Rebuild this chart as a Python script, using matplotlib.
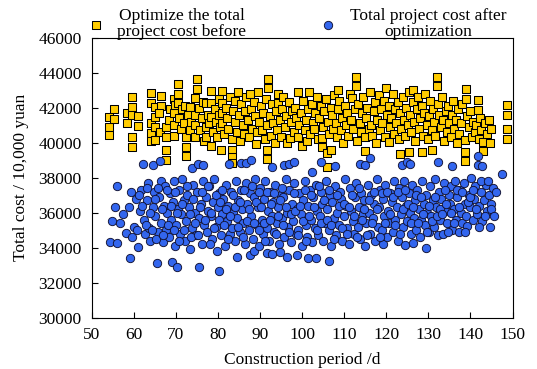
import numpy as np
import matplotlib
matplotlib.use("Agg")
import matplotlib.pyplot as plt

# total cost before optimization (yellow squares)
before_x = [
    54.2, 54.2, 54.2, 55.3, 55.3, 58.5, 58.5, 59.7, 59.7, 59.7,
    59.7, 59.7, 61.0, 61.0, 64.2, 64.2, 64.2, 64.2, 64.2, 65.2,
    65.2, 65.2, 65.2, 66.4, 66.4, 66.0, 66.2, 67.8, 67.8, 67.8,
    67.8, 68.3, 68.6, 69.7, 69.7, 69.7, 69.7, 69.8, 70.6, 70.6,
    70.6, 70.9, 71.2, 71.5, 72.4, 72.4, 72.4, 72.0, 72.2, 73.3,
    73.3, 73.0, 73.6, 74.6, 74.6, 74.6, 74.6, 75.1, 75.1, 75.5,
    75.8, 76.2, 76.5, 76.7, 77.2, 77.2, 77.2, 77.6, 78.0, 78.4,
    78.4, 78.4, 78.4, 78.8, 79.3, 79.6, 79.8, 80.2, 80.4, 80.5,
    80.8, 81.0, 81.0, 81.0, 81.0, 81.5, 81.9, 82.2, 82.5, 82.8,
    83.3, 83.3, 83.3, 83.4, 83.6, 84.0, 84.2, 84.5, 84.8, 85.0,
    85.3, 85.6, 85.9, 86.2, 86.5, 86.8, 87.1, 87.6, 87.4, 87.9,
    88.2, 88.5, 88.8, 89.1, 89.3, 89.6, 89.9, 90.2, 90.5, 90.8,
    91.1, 91.6, 91.6, 91.4, 91.7, 92.0, 92.0, 92.3, 92.6, 92.9,
    93.2, 93.5, 93.8, 94.1, 94.4, 94.4, 94.7, 95.0, 95.3, 95.6,
    95.9, 96.2, 96.5, 96.8, 97.1, 97.4, 97.7, 98.0, 98.3, 98.6,
    99.1, 99.1, 99.4, 99.7, 100.0, 100.3, 100.6, 100.9, 101.2, 101.7,
    101.5, 102.0, 102.3, 102.6, 102.9, 103.2, 103.5, 103.8, 104.1, 104.7,
    104.7, 104.4, 105.0, 105.3, 105.6, 105.9, 105.9, 106.2, 106.5, 107.0,
    106.8, 107.1, 107.4, 107.7, 108.0, 108.5, 108.3, 108.6, 108.9, 109.2,
    109.5, 109.8, 110.1, 110.4, 110.7, 111.0, 111.3, 111.8, 111.6, 112.2,
    112.8, 112.8, 112.5, 113.1, 113.4, 113.7, 114.0, 114.3, 114.6, 115.0,
    114.9, 115.2, 115.5, 115.8, 116.1, 116.4, 116.7, 117.0, 117.3, 117.6,
    117.9, 118.2, 118.5, 118.8, 119.1, 119.4, 119.7, 120.0, 120.3, 120.7,
    120.6, 120.9, 121.2, 121.5, 121.8, 122.1, 122.4, 122.7, 123.0, 123.3,
    123.3, 123.6, 123.9, 124.2, 124.5, 124.8, 125.3, 125.1, 125.4, 125.7,
    126.0, 126.3, 126.3, 126.6, 126.9, 127.2, 127.5, 127.8, 128.1, 128.4,
    128.4, 128.7, 129.0, 129.3, 129.6, 129.9, 130.2, 130.5, 130.8, 130.8,
    131.1, 131.4, 132.0, 132.0, 131.7, 132.3, 132.6, 132.9, 133.2, 133.5,
    133.8, 134.1, 134.4, 134.7, 135.0, 135.3, 135.6, 135.9, 136.2, 136.5,
    136.8, 137.1, 137.4, 137.7, 138.0, 138.7, 138.7, 138.7, 139.0, 139.0,
    139.3, 139.6, 140.0, 140.3, 140.6, 141.0, 141.7, 141.7, 141.4, 142.0,
    142.3, 142.6, 143.1, 143.1, 143.5, 144.0, 144.3, 144.6, 144.9, 148.6,
    148.6, 148.6, 148.6,
]
before_y = [
    41450, 40915, 40440, 41910, 41340, 41715, 41145, 42630, 42060, 41585,
    40345, 39770, 41530, 40970, 42860, 42290, 41125, 40555, 40080, 42060,
    41490, 40915, 40150, 42690, 42120, 41700, 40600, 40915, 40345, 39580,
    39000, 41300, 41900, 42500, 41680, 41010, 40390, 42140, 43350, 42800,
    42260, 41400, 40800, 41900, 40345, 39730, 39240, 41100, 42100, 42060,
    40720, 41600, 41200, 42570, 41570, 41030, 40345, 43625, 43050, 42000,
    40700, 41400, 42300, 40100, 42250, 40915, 40345, 41600, 41100, 42950,
    42250, 41490, 39800, 40600, 41900, 41200, 40300, 42500, 41600, 40900,
    39600, 42950, 42250, 41720, 41110, 40500, 42000, 41400, 40800, 42600,
    39580, 39200, 38820, 40200, 41800, 41200, 42400, 40600, 42900, 41600,
    40100, 42200, 41000, 40500, 41800, 42600, 41300, 42800, 40300, 41900,
    40800, 42300, 41500, 39900, 40600, 42900, 41200, 42100, 40700, 41700,
    40200, 39600, 39070, 42500, 41000, 43630, 43100, 41500, 40400, 42200,
    41100, 40000, 41800, 40700, 42800, 42260, 41300, 40300, 41900, 42600,
    40900, 41500, 40000, 42300, 40270, 41200, 41800, 40600, 42000, 41400,
    42900, 40340, 41000, 41700, 39800, 42400, 40700, 41300, 40100, 42900,
    41900, 40500, 42200, 41100, 40800, 41700, 42600, 40200, 41400, 40280,
    39750, 42100, 40900, 41800, 42500, 39400, 38600, 41200, 40500, 39600,
    42000, 41600, 40800, 42700, 41100, 43040, 40300, 41900, 42400, 40700,
    41400, 40000, 42100, 41000, 41700, 40400, 42800, 42530, 41300, 40800,
    43740, 43230, 41900, 40100, 42200, 41100, 40600, 41700, 42600, 39550,
    40300, 41400, 42000, 40800, 42900, 41000, 40400, 41800, 42300, 40000,
    41300, 42700, 40700, 41900, 41100, 42400, 40300, 43140, 41600, 40030,
    42100, 40900, 41400, 42800, 40500, 41900, 41100, 42300, 40200, 39380,
    41700, 40800, 42600, 41300, 40400, 42000, 39480, 41000, 42900, 41600,
    40600, 43000, 42300, 41200, 40100, 41900, 42600, 40800, 41400, 39480,
    42100, 40400, 41700, 42800, 41000, 40200, 41500, 42400, 39570, 40700,
    41900, 41200, 43770, 43240, 40400, 42200, 41600, 40900, 42600, 41300,
    40100, 41800, 40600, 42100, 41100, 40300, 41600, 42400, 40800, 41300,
    40000, 41900, 40500, 41100, 42200, 40150, 39470, 38940, 43050, 42480,
    41500, 40900, 41800, 40300, 41200, 40600, 42440, 41870, 41000, 40200,
    41400, 40700, 40060, 39530, 41100, 40500, 41300, 40000, 40800, 42150,
    41580, 40760, 40190,
]

# total cost after optimization (blue circles)
after_x = [
    54.4, 54.9, 55.6, 56.1, 56.1, 56.7, 58.3, 58.9, 59.1, 59.7,
    57.5, 59.5, 60.2, 60.5, 61.1, 61.5, 61.8, 62.3, 62.5, 62.8,
    63.2, 63.5, 63.7, 64.0, 64.5, 64.6, 64.9, 65.2, 65.6, 65.8,
    66.0, 66.3, 66.4, 66.6, 66.9, 67.2, 67.5, 67.7, 68.0, 68.3,
    68.6, 68.9, 69.2, 69.3, 69.6, 69.8, 70.1, 70.4, 70.5, 70.7,
    71.0, 71.3, 71.6, 71.9, 72.2, 72.5, 72.8, 73.1, 73.4, 73.8,
    73.9, 74.2, 74.5, 74.8, 75.1, 75.4, 75.5, 75.6, 75.9, 76.2,
    76.4, 76.5, 76.8, 77.1, 77.4, 77.7, 78.0, 78.3, 78.6, 78.9,
    79.2, 79.5, 79.8, 80.0, 80.3, 80.4, 80.7, 81.0, 81.3, 81.6,
    81.9, 82.2, 82.6, 82.5, 82.8, 83.1, 83.4, 83.7, 84.0, 84.3,
    84.5, 84.6, 84.9, 85.2, 85.4, 85.5, 85.8, 86.1, 86.6, 86.4,
    86.7, 87.0, 87.3, 87.6, 87.7, 88.0, 88.0, 88.3, 88.7, 88.6,
    88.9, 89.2, 89.5, 89.8, 90.1, 90.4, 90.7, 91.0, 91.3, 91.6,
    91.6, 91.9, 92.2, 92.5, 92.8, 92.9, 92.8, 93.1, 93.4, 93.7,
    94.0, 94.3, 94.6, 94.8, 94.9, 95.2, 95.5, 95.8, 95.8, 96.1,
    96.4, 96.4, 96.7, 97.0, 97.0, 97.3, 97.6, 97.9, 98.2, 98.2,
    98.5, 98.7, 98.8, 99.1, 99.4, 99.7, 100.0, 100.3, 100.6, 100.9,
    101.2, 101.5, 101.5, 101.8, 102.1, 102.3, 102.4, 102.7, 103.0, 103.3,
    103.3, 103.6, 103.9, 104.2, 104.5, 104.5, 104.8, 105.1, 105.4, 105.7,
    106.0, 106.3, 106.4, 106.6, 106.9, 107.2, 107.5, 107.8, 107.8, 108.1,
    108.4, 108.7, 109.0, 109.3, 109.6, 109.9, 110.2, 110.5, 110.8, 111.1,
    111.4, 111.7, 112.0, 112.3, 112.6, 112.9, 113.2, 113.7, 113.5, 113.8,
    114.1, 114.4, 114.9, 114.7, 115.0, 115.3, 115.6, 116.1, 115.9, 116.2,
    116.5, 116.8, 117.1, 117.4, 117.7, 118.0, 118.3, 118.6, 118.9, 119.3,
    119.2, 119.5, 119.8, 120.1, 120.4, 120.7, 121.0, 121.3, 121.6, 121.9,
    122.2, 122.5, 122.8, 123.1, 123.4, 123.8, 123.7, 124.0, 124.3, 124.5,
    124.6, 125.0, 124.9, 125.3, 125.6, 125.6, 125.9, 126.4, 126.2, 126.5,
    126.8, 127.1, 127.4, 127.7, 128.0, 128.3, 128.6, 128.9, 129.4, 129.2,
    129.5, 129.8, 130.1, 130.4, 130.7, 131.0, 131.3, 131.6, 132.3, 131.9,
    132.2, 132.5, 132.8, 133.1, 133.4, 133.7, 134.0, 134.5, 134.8, 135.1,
    135.6, 135.4, 135.7, 136.0, 136.3, 136.6, 136.9, 137.2, 137.5, 137.8,
    138.1, 138.4, 138.7, 139.0, 139.3, 139.6, 139.9, 140.2, 140.5, 140.8,
    141.1, 141.5, 141.9, 141.9, 142.1, 142.7, 142.4, 142.8, 143.2, 143.6,
    144.0, 144.3, 144.7, 145.0, 145.3, 147.4,
    60.8, 61.4, 62.0, 62.9, 63.3, 63.9, 64.3, 65.0, 65.4, 65.9,
    66.8, 67.0, 67.9, 68.2, 68.8, 69.5, 69.9, 70.3, 70.9, 71.5,
    72.0, 72.7, 73.3, 73.6, 74.0, 74.6, 75.3, 75.8, 76.3, 77.0,
    77.6, 78.1, 78.5, 79.0, 79.6, 80.2, 80.6, 81.1, 81.5, 82.0,
    82.4, 83.0, 83.5, 84.1, 84.8, 85.3, 85.9, 86.2, 86.9, 87.4,
    88.1, 88.5, 89.1, 89.7, 89.9, 90.3, 90.9, 91.2, 91.8, 92.3,
    92.6, 93.3, 93.9, 94.4, 94.7, 95.3, 95.6, 96.2, 96.9, 97.5,
    98.0, 98.4, 99.0, 99.6, 100.2, 100.8, 101.0, 101.7, 102.2, 102.9,
    103.5, 104.0, 104.6, 105.2, 105.9, 106.5, 107.0, 107.6, 108.2, 108.8,
    109.4, 110.0, 110.6, 111.2, 111.9, 112.4, 113.0, 113.6, 114.2, 114.8,
    115.4, 116.0, 116.6, 117.2, 117.9, 118.5, 119.0, 119.7, 120.3, 120.9,
    121.5, 122.1, 122.7, 123.3, 123.9, 124.4, 125.1, 125.8, 126.3, 127.0,
    127.6, 128.2, 128.8, 129.6, 130.2, 130.9, 131.5, 132.1, 132.7, 133.3,
    133.9, 134.3, 134.7, 135.3, 136.1, 136.8, 137.4, 138.0, 138.6, 139.4,
    140.0, 140.7, 141.3, 142.0, 142.6, 143.4, 144.2, 144.9, 145.6, 146.0,
]
after_y = [
    34300, 35550, 36300, 37500, 34250, 35430, 34820, 36300, 33430, 34630,
    35900, 37200, 35200, 36800, 34020, 36100, 37300, 38770, 35600, 34800,
    36700, 37700, 35100, 34400, 38720, 36300, 37200, 35800, 33110, 34900,
    36900, 38950, 37800, 35400, 34300, 36400, 37500, 35000, 36000, 34600,
    37100, 35600, 33170, 36600, 37800, 34100, 35300, 32920, 36200, 37300,
    34800, 35900, 37900, 36700, 34400, 35500, 37000, 36300, 33900, 38530,
    35100, 37600, 36000, 34700, 37200, 38770, 32880, 35700, 36500, 34200,
    38700, 37800, 35300, 36900, 34900, 36100, 37500, 35800, 34500, 36600,
    37900, 35200, 33800, 36300, 32690, 37100, 34700, 35900, 36800, 34100,
    37600, 35500, 38770, 36400, 34800, 37200, 35100, 36000, 34400, 37800,
    33490, 35700, 36700, 34900, 38850, 37300, 36200, 35400, 38850, 34200,
    37700, 36500, 35000, 33580, 37100, 39040, 35800, 34500, 33830, 36900,
    37900, 35300, 36300, 34100, 37400, 35600, 34800, 36800, 37800, 33680,
    35100, 36100, 34400, 37200, 33620, 38600, 35800, 36600, 34900, 37600,
    35400, 36300, 34200, 33770, 37000, 35700, 36900, 38700, 34600, 37900,
    33490, 36000, 35200, 38800, 37300, 34300, 36500, 35500, 38900, 37700,
    34800, 33580, 36200, 35000, 37100, 35900, 34100, 36700, 37800, 35300,
    34600, 33430, 36400, 37300, 35600, 38330, 34300, 36900, 35100, 33430,
    37600, 36100, 34700, 35800, 38900, 37200, 36500, 34400, 35400, 37800,
    36200, 35000, 33260, 37000, 34100, 36600, 35700, 38660, 37500, 34700,
    36000, 35300, 37200, 36800, 34400, 35800, 37900, 36400, 35100, 34200,
    37400, 36100, 35500, 34800, 36900, 37700, 35200, 38800, 36300, 34500,
    37100, 35900, 38750, 36700, 34100, 35400, 37600, 39100, 36000, 34800,
    37000, 35700, 36500, 34400, 37900, 35200, 36300, 37300, 35000, 34210,
    36800, 35800, 37600, 34600, 36100, 35400, 37100, 36600, 34900, 37800,
    35600, 36300, 34400, 37400, 35900, 38750, 36900, 35200, 37800, 34160,
    36400, 38900, 35500, 37100, 38800, 36000, 34800, 34250, 37600, 35700,
    36700, 35000, 37300, 36200, 34600, 35600, 37800, 36500, 33970, 35300,
    37000, 36000, 34900, 37500, 35800, 36700, 35200, 37900, 38900, 36300,
    34700, 37200, 35600, 36800, 34780, 37700, 36100, 35400, 37000, 36500,
    38660, 37500, 35000, 36200, 37800, 35600, 36900, 34900, 37300, 36000,
    35400, 37700, 36500, 35800, 35240, 37000, 36300, 38000, 35600, 36800,
    37500, 35900, 39230, 38700, 36400, 38660, 37200, 35500, 36700, 37600,
    36100, 37000, 35170, 36500, 37400, 38210,
    35000, 37000, 36400, 35300, 37400, 36000, 35000, 36800, 34500, 37400,
    36200, 34700, 37300, 35300, 36400, 35000, 37200, 36000, 34400, 36500,
    35000, 37500, 35900, 34600, 36800, 35400, 34700, 36300, 37200, 35600,
    37500, 34200, 36000, 35100, 37000, 35600, 36600, 37300, 35300, 36200,
    34500, 35800, 37000, 36300, 35200, 36600, 34600, 37300, 35500, 36200,
    37500, 35400, 36600, 35000, 37200, 36300, 35400, 34400, 37200, 35600,
    36500, 37100, 34800, 35800, 36700, 37400, 35300, 36300, 34900, 35900,
    37100, 36100, 34700, 36400, 35500, 37300, 34400, 35800, 37000, 36300,
    35000, 37500, 35400, 36700, 35600, 37300, 35300, 34500, 37000, 36400,
    35100, 36500, 34800, 36300, 37000, 35800, 34600, 37400, 35600, 36200,
    34700, 36700, 35400, 37200, 36200, 34600, 37100, 35400, 37200, 35900,
    36900, 35300, 37200, 34800, 36200, 37300, 36500, 35400, 36300, 37000,
    35400, 36900, 35900, 34900, 36400, 35500, 36900, 35800, 36200, 35900,
    37300, 36500, 34900, 36000, 35400, 37300, 36300, 37200, 34900, 36600,
    36900, 37300, 36200, 35200, 37800, 35800, 37800, 36200, 35800, 37200,
]

assert len(before_x) == len(before_y)
assert len(after_x) == len(after_y)

label_before = "Optimize the total\nproject cost before"
label_after = "Total project cost after\noptimization"

plt.rcParams['font.family'] = ['Liberation Serif', 'DejaVu Serif']
plt.rcParams['font.size'] = 12.5

W, H = 537, 369
fig = plt.figure(figsize=(W / 100, H / 100), dpi=100)
ax = fig.add_axes([91.5 / W, 1 - 317.7 / H, 421 / W, 280 / H])

sq = ax.scatter(before_x, before_y, marker='s', s=40, c='#ffcc00',
                edgecolors='black', linewidths=0.75, zorder=2)
ci = ax.scatter(after_x, after_y, marker='o', s=36, c='#3366ee',
                edgecolors='#111133', linewidths=0.65, zorder=3)

ax.set_xlim(50, 150)
ax.set_ylim(30000, 46000)
ax.set_xticks(np.arange(50, 151, 10))
ax.set_yticks(np.arange(30000, 46001, 2000))
ax.tick_params(direction='in', length=4, width=0.8, top=False, right=False, pad=7)
for s in ax.spines.values():
    s.set_linewidth(0.8)

ax.set_xlabel("Construction period /d", labelpad=6)
ax.set_ylabel("Total cost / 10,000 yuan", labelpad=7)

leg = ax.legend([sq, ci], [label_before, label_after], ncol=2, frameon=False,
                loc='center left', bbox_to_anchor=(87 / W, 1 - 24 / H),
                bbox_transform=fig.transFigure, borderpad=0, borderaxespad=0,
                handlelength=1.0, handletextpad=0.75, columnspacing=4.2,
                fontsize=12.5)
for t in leg.get_texts():
    t.set_multialignment('center')
    t.set_linespacing(1.0)

fig.savefig("out.png", dpi=100)
